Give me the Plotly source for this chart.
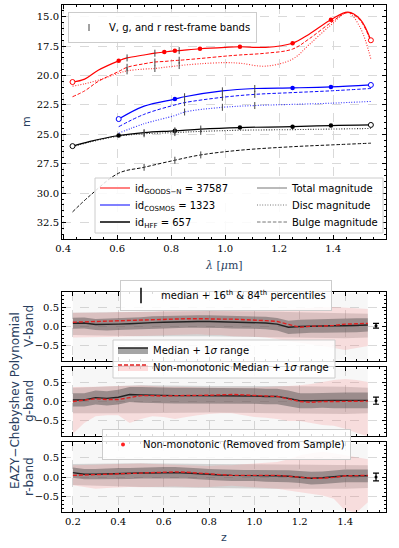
import plotly.graph_objects as go

# ---------------- top panel: magnitudes vs observed wavelength ----------------
lam_goods = [0.435, 0.48, 0.53, 0.606, 0.637, 0.70, 0.74, 0.775, 0.814, 0.83,
             0.907, 1.0, 1.055, 1.15, 1.25, 1.31, 1.392, 1.455, 1.50, 1.54]
goods_total = [20.55, 20.3, 19.55, 18.75, 18.5, 18.25, 18.1, 18.0, 17.9, 17.88,
               17.72, 17.6, 17.55, 17.6, 17.25, 16.5, 15.25, 14.6, 15.2, 17.0]
goods_bulge = [21.8, 21.3, 20.5, 19.65, 19.3, 19.0, 18.85, 18.8, 18.72, 18.7,
               18.55, 18.35, 18.25, 18.1, 17.75, 16.9, 15.5, 14.65, 15.3, 17.1]
goods_disc = [20.9, 20.7, 20.4, 19.8, 19.6, 19.45, 19.4, 19.3, 19.2, 19.15,
              19.0, 18.9, 18.95, 19.2, 18.6, 17.4, 15.7, 14.65, 15.9, 18.6]
goods_phot = [0.606, 0.775, 0.814, 0.907, 1.055, 1.25, 1.392]
goods_bands = [0.637, 0.74, 0.83]

lam_cosmos = [0.606, 0.70, 0.814, 0.85, 0.99, 1.11, 1.25, 1.392, 1.54]
cosmos_total = [23.7, 22.6, 22.0, 21.8, 21.3, 21.1, 21.05, 20.97, 20.8]
cosmos_bulge = [24.35, 23.3, 22.5, 22.3, 21.85, 21.6, 21.45, 21.3, 21.1]
cosmos_disc = [24.9, 24.1, 23.4, 23.1, 22.7, 22.55, 22.45, 22.35, 22.2]
cosmos_phot = [0.814, 1.25, 1.392]
cosmos_bands = [0.85, 0.99, 1.11]

lam_hff = [0.435, 0.50, 0.606, 0.70, 0.814, 0.91, 1.055, 1.25, 1.392, 1.54]
hff_total = [26.0, 25.6, 25.1, 24.85, 24.7, 24.55, 24.42, 24.35, 24.25, 24.2]
hff_disc = [26.05, 25.65, 25.15, 24.95, 24.85, 24.75, 24.65, 24.6, 24.55, 24.5]
hff_bulge = [31.6, 30.2, 28.3, 27.8, 27.2, 26.75, 26.35, 26.05, 25.9, 25.75]
hff_phot = [0.606, 0.814, 1.055, 1.25, 1.392]
hff_bands = [0.70, 0.814, 0.91]

# ---------------- bottom panels: EAZY - Chebyshev vs z ----------------
z = [0.2, 0.25, 0.3, 0.35, 0.4, 0.45, 0.5, 0.55, 0.6, 0.65, 0.7, 0.75, 0.8, 0.85,
     0.9, 0.95, 1.0, 1.05, 1.1, 1.15, 1.2, 1.25, 1.3, 1.35, 1.4, 1.45, 1.5]

V_med = [0.085, 0.09, 0.05, 0.05, 0.06, 0.07, 0.09, 0.1, 0.11, 0.12, 0.13, 0.13, 0.13, 0.12,
         0.11, 0.11, 0.1, 0.09, 0.06, -0.02, 0.0, 0.01, 0.01, 0.02, 0.02, 0.03, 0.04]
V_sig = [0.14, 0.14, 0.14, 0.15, 0.15, 0.15, 0.15, 0.16, 0.16, 0.16, 0.16, 0.16, 0.16, 0.16,
         0.16, 0.16, 0.16, 0.16, 0.16, 0.17, 0.17, 0.17, 0.17, 0.18, 0.18, 0.18, 0.17]
V_nm_med = [0.11, 0.12, 0.13, 0.13, 0.15, 0.15, 0.16, 0.17, 0.19, 0.2, 0.2, 0.2, 0.19, 0.19,
            0.19, 0.18, 0.17, 0.15, 0.13, 0.05, -0.02, 0.01, 0.01, 0.03, 0.06, 0.07, 0.08]
V_nm_hi = [0.35, 0.35, 0.36, 0.36, 0.37, 0.37, 0.38, 0.38, 0.4, 0.4, 0.41, 0.42, 0.42, 0.42,
           0.42, 0.4, 0.4, 0.4, 0.42, 0.44, 0.46, 0.48, 0.5, 0.5, 0.48, 0.47, 0.45]
V_nm_lo = [-0.28, -0.28, -0.27, -0.27, -0.26, -0.25, -0.25, -0.24, -0.22, -0.22, -0.2, -0.2, -0.22, -0.22,
           -0.25, -0.25, -0.26, -0.28, -0.32, -0.38, -0.42, -0.45, -0.5, -0.55, -0.6, -0.55, -0.5]

g_med = [0.04, 0.04, 0.1, 0.08, 0.11, 0.18, 0.17, 0.16, 0.15, 0.15, 0.15, 0.15, 0.15, 0.15,
         0.15, 0.14, 0.14, 0.13, 0.13, 0.08, 0.02, 0.02, 0.03, 0.03, 0.03, 0.03, 0.03]
g_sig = [0.17, 0.17, 0.18, 0.18, 0.19, 0.19, 0.2, 0.2, 0.2, 0.2, 0.2, 0.2, 0.2, 0.2,
         0.2, 0.2, 0.2, 0.2, 0.2, 0.2, 0.19, 0.19, 0.19, 0.2, 0.2, 0.2, 0.2]
g_nm_med = [0.0, 0.03, 0.07, 0.05, 0.05, 0.1, 0.15, 0.15, 0.14, 0.15, 0.15, 0.16, 0.16, 0.17,
            0.18, 0.17, 0.15, 0.14, 0.13, 0.07, 0.0, -0.02, 0.0, 0.0, 0.0, 0.0, 0.01]
g_nm_hi = [0.37, 0.37, 0.38, 0.39, 0.4, 0.41, 0.41, 0.4, 0.38, 0.38, 0.37, 0.36, 0.36, 0.36,
           0.36, 0.35, 0.36, 0.37, 0.38, 0.4, 0.42, 0.45, 0.5, 0.55, 0.58, 0.55, 0.5]
g_nm_lo = [-0.83, -0.55, -0.38, -0.35, -0.35, -0.55, -0.45, -0.38, -0.4, -0.45, -0.4, -0.35, -0.32, -0.3,
           -0.3, -0.35, -0.4, -0.42, -0.45, -0.5, -0.5, -0.55, -0.6, -0.62, -0.7, -0.8, -0.9]

r_med = [0.11, 0.07, 0.07, 0.08, 0.09, 0.09, 0.1, 0.1, 0.11, 0.11, 0.1, 0.08, 0.06, 0.05,
         0.04, 0.04, 0.04, 0.03, 0.03, 0.02, 0.0, -0.03, -0.02, 0.0, 0.03, 0.03, 0.03]
r_sig = [0.13, 0.13, 0.13, 0.14, 0.14, 0.14, 0.14, 0.14, 0.14, 0.14, 0.14, 0.14, 0.14, 0.14,
         0.14, 0.14, 0.14, 0.15, 0.15, 0.15, 0.15, 0.16, 0.16, 0.16, 0.16, 0.16, 0.16]
r_nm_med = [0.04, 0.05, 0.07, 0.08, 0.09, 0.1, 0.11, 0.12, 0.13, 0.13, 0.12, 0.1, 0.07, 0.05,
            0.04, 0.04, 0.04, 0.04, 0.04, 0.02, -0.01, -0.03, -0.03, -0.01, 0.03, 0.04, 0.04]
r_nm_hi = [0.3, 0.3, 0.31, 0.32, 0.33, 0.34, 0.34, 0.33, 0.32, 0.3, 0.3, 0.28, 0.28, 0.3,
           0.3, 0.32, 0.34, 0.36, 0.38, 0.45, 0.55, 0.6, 0.64, 0.6, 0.55, 0.5, 0.45]
r_nm_lo = [-0.21, -0.25, -0.3, -0.28, -0.26, -0.25, -0.26, -0.25, -0.24, -0.24, -0.25, -0.26, -0.25, -0.24,
           -0.22, -0.24, -0.26, -0.28, -0.3, -0.34, -0.38, -0.42, -0.47, -0.55, -0.85, -0.9, -0.64]

# extent of the (dense / sparse) point clouds
cz = [0.2, 0.5, 0.8, 1.1, 1.4, 1.5]
V_cloud_hi = [0.35, 0.38, 0.4, 0.38, 0.35, 0.33]
V_cloud_lo = [-0.22, -0.25, -0.25, -0.28, -0.3, -0.28]
g_cloud_hi = [0.35, 0.42, 0.4, 0.4, 0.38, 0.35]
g_cloud_lo = [-0.3, -0.3, -0.28, -0.3, -0.32, -0.3]
r_cloud_hi = [0.33, 0.35, 0.33, 0.32, 0.32, 0.3]
r_cloud_lo = [-0.2, -0.25, -0.28, -0.3, -0.3, -0.28]
sparse_hi = [0.85, 0.85, 0.85, 0.85, 0.85, 0.85]
sparse_lo = [-0.85, -0.85, -0.85, -0.85, -0.85, -0.85]

# percentile error bars at the right edge
err_z = [1.536]
V_err_y, V_err = [0.02], [0.06]
g_err_y, g_err = [0.02], [0.09]
r_err_y, r_err = [0.0], [0.1]

# ------------------------------------------------------------------
W, H = 399, 548
ML, MR, MT, MB = 62, 13, 5, 36


def px(x):
    return (x - ML) / (W - ML - MR)


def py(y):
    return (H - MB - y) / (H - MT - MB)


SANS = 'DejaVu Sans'
SERIF = 'DejaVu Serif'
DOT = '1px,1.6px'
DASH = '3.5px,1.8px'

fig = go.Figure()

galaxies = [
    ('red', '#ff8080', lam_goods, goods_total, goods_disc, goods_bulge, goods_phot, goods_bands,
     'id<sub>GOODS−N</sub> = 37587'),
    ('blue', '#8080ff', lam_cosmos, cosmos_total, cosmos_disc, cosmos_bulge, cosmos_phot, cosmos_bands,
     'id<sub>COSMOS</sub> = 1323'),
    ('black', '#404040', lam_hff, hff_total, hff_disc, hff_bulge, hff_phot, hff_bands,
     'id<sub>HFF</sub> = 657'),
]

band_x, band_y = [], []
for i, (col, lcol, lam, tot, disc, bulge, phot, bands, name) in enumerate(galaxies):
    fig.add_trace(go.Scatter(x=lam, y=disc, mode='lines', line=dict(color=col, width=1.1, dash=DOT, shape='spline'),
                             opacity=0.8, showlegend=False, xaxis='x', yaxis='y'))
    fig.add_trace(go.Scatter(x=lam, y=bulge, mode='lines', line=dict(color=col, width=1, dash=DASH, shape='spline'),
                             opacity=0.95, showlegend=False, xaxis='x', yaxis='y'))
    fig.add_trace(go.Scatter(x=lam, y=tot, mode='lines', line=dict(color=col, width=1.2, shape='spline'),
                             showlegend=False, xaxis='x', yaxis='y'))
    lookup = dict(zip(lam, tot))
    fig.add_trace(go.Scatter(x=phot, y=[lookup[l] for l in phot], mode='markers',
                             marker=dict(color=col, size=4.5), showlegend=False, xaxis='x', yaxis='y'))
    fig.add_trace(go.Scatter(x=[lam[0], lam[-1]], y=[tot[0], tot[-1]], mode='markers',
                             marker=dict(color='white', size=5, line=dict(color=col, width=1)),
                             showlegend=False, xaxis='x', yaxis='y'))
    for curve in (tot, disc, bulge):
        lk = dict(zip(lam, curve))
        for b in bands:
            band_x.append(b)
            band_y.append(lk[b])
    fig.add_trace(go.Scatter(x=[None], y=[None], mode='lines', line=dict(color=lcol, width=2),
                             name=name, legend='legend%d' % (2 + i), xaxis='x', yaxis='y'))

fig.add_trace(go.Scatter(x=band_x, y=band_y, mode='markers',
                         marker=dict(symbol='line-ns', size=5, color='#444', line=dict(width=1, color='#444')),
                         name='V, g, and r rest-frame bands', legend='legend', xaxis='x', yaxis='y'))

for i, (nm, dash) in enumerate((('Total magnitude', 'solid'), ('Disc magnitude', DOT), ('Bulge magnitude', DASH))):
    fig.add_trace(go.Scatter(x=[None], y=[None], mode='lines', line=dict(color='#777', width=1, dash=dash),
                             name=nm, legend='legend%d' % (5 + i), xaxis='x', yaxis='y'))

# ------------------------------------------------------------------
panels = [
    ('2', V_med, V_sig, V_nm_med, V_nm_hi, V_nm_lo, V_cloud_hi, V_cloud_lo, V_err_y, V_err),
    ('3', g_med, g_sig, g_nm_med, g_nm_hi, g_nm_lo, g_cloud_hi, g_cloud_lo, g_err_y, g_err),
    ('4', r_med, r_sig, r_nm_med, r_nm_hi, r_nm_lo, r_cloud_hi, r_cloud_lo, r_err_y, r_err),
]

for k, med, sig, nmm, nmh, nml, chi, clo, ey, ee in panels:
    ax = dict(xaxis='x' + k, yaxis='y' + k, showlegend=False, hoverinfo='skip')

    def band(xs, lo, hi, color):
        fig.add_trace(go.Scatter(x=xs, y=lo, mode='lines', line=dict(width=0), **ax))
        fig.add_trace(go.Scatter(x=xs, y=hi, mode='lines', line=dict(width=0), fill='tonexty',
                                 fillcolor=color, **ax))

    band(cz, sparse_lo, sparse_hi, 'rgba(150,150,150,0.08)')
    band(cz, clo, chi, 'rgba(120,120,120,0.28)')
    band(z, nml, nmh, 'rgba(250,120,120,0.2)')
    band(z, [m - s for m, s in zip(med, sig)], [m + s for m, s in zip(med, sig)], 'rgba(70,70,70,0.42)')
    fig.add_trace(go.Scatter(x=z, y=med, mode='lines', line=dict(color='#222', width=1.4), **ax))
    fig.add_trace(go.Scatter(x=z, y=nmm, mode='lines', line=dict(color='#e02020', width=1.4, dash='4px,2px'), **ax))
    fig.add_trace(go.Scatter(x=err_z, y=ey, mode='markers', marker=dict(color='black', size=3),
                             error_y=dict(type='data', array=ee, color='black', thickness=1.2, width=3), **ax))

fig.add_trace(go.Scatter(x=[None], y=[None], mode='markers',
                         marker=dict(symbol='line-ns', size=11, color='black', line=dict(width=1.5, color='black')),
                         name='median + 16<sup>th</sup> & 84<sup>th</sup> percentiles', legend='legend8',
                         xaxis='x2', yaxis='y2'))
fig.add_trace(go.Scatter(x=[None], y=[None], mode='lines', line=dict(color='#222', width=1.6),
                         fill='toself', fillcolor='rgba(90,90,90,0.55)',
                         name='Median + 1<i>σ</i> range', legend='legend9', xaxis='x2', yaxis='y2'))
fig.add_trace(go.Scatter(x=[None], y=[None], mode='lines', line=dict(color='#e02020', width=1.4, dash='4px,2px'),
                         fill='toself', fillcolor='rgba(250,120,120,0.25)',
                         name='Non-monotonic Median + 1<i>σ</i> range', legend='legend10', xaxis='x2', yaxis='y2'))
fig.add_trace(go.Scatter(x=[None], y=[None], mode='markers', marker=dict(color='#ff2020', size=4),
                         name='Non-monotonic (Removed from Sample)', legend='legend11', xaxis='x4', yaxis='y4'))

# ------------------------------------------------------------------
common = dict(showline=True, linecolor='black', linewidth=1, mirror='allticks', ticks='inside', ticklen=4,
              tickcolor='black', showgrid=True, gridcolor='#d9d9d9', griddash='dash', gridwidth=0.8,
              zeroline=False, tickfont=dict(family=SERIF, size=10, color='black'))

top_x = dict(common, domain=[0, 1], range=[0.396, 1.596], anchor='y', tick0=0.4, dtick=0.2, tickformat='.1f',
             minor=dict(ticks='inside', ticklen=2, dtick=0.05, tickcolor='black', showgrid=False))
top_y = dict(common, domain=[py(239), 1], range=[33.9, 14.0], anchor='x', tick0=15, dtick=2.5, tickformat='.1f',
             minor=dict(ticks='inside', ticklen=2, dtick=0.5, tickcolor='black', showgrid=False))

bx = dict(common, domain=[0, 1], range=[0.152, 1.58], tick0=0.2, dtick=0.2, tickformat='.1f',
          minor=dict(ticks='inside', ticklen=2, dtick=0.05, tickcolor='black', showgrid=False))
by = dict(common, range=[-0.885, 0.885], tick0=0, dtick=0.5, tickformat='.1f',
          minor=dict(ticks='inside', ticklen=2, dtick=0.1, tickcolor='black', showgrid=False))

leg = dict(bgcolor='rgba(255,255,255,0.85)', bordercolor='#cccccc', borderwidth=1,
           font=dict(family=SANS, size=10, color='black'), xanchor='left', yanchor='top', tracegroupgap=0)
bare = dict(leg, bgcolor='rgba(0,0,0,0)', borderwidth=0, yanchor='middle')


def box(x0, x1, y0, y1):
    return dict(type='rect', xref='paper', yref='paper', x0=px(x0), x1=px(x1), y0=py(y1), y1=py(y0),
                fillcolor='rgba(255,255,255,0.85)', line=dict(color='#cccccc', width=1), layer='above')


fig.update_layout(
    width=W, height=H, margin=dict(l=ML, r=MR, t=MT, b=MB),
    paper_bgcolor='white', plot_bgcolor='white',
    xaxis=top_x, yaxis=top_y,
    xaxis2=dict(bx, anchor='y2', showticklabels=False), yaxis2=dict(by, anchor='x2', domain=[py(361), py(292)]),
    xaxis3=dict(bx, anchor='y3', showticklabels=False), yaxis3=dict(by, anchor='x3', domain=[py(436), py(367)]),
    xaxis4=dict(bx, anchor='y4'), yaxis4=dict(by, anchor='x4', domain=[0, py(442)]),
    legend=dict(leg, x=px(68), y=py(12)),
    legend2=dict(bare, x=px(95), y=py(188)),
    legend3=dict(bare, x=px(95), y=py(205)),
    legend4=dict(bare, x=px(95), y=py(222)),
    legend5=dict(bare, x=px(252), y=py(188)),
    legend6=dict(bare, x=px(252), y=py(205)),
    legend7=dict(bare, x=px(252), y=py(222)),
    legend8=dict(leg, x=px(120), y=py(280)),
    legend9=dict(bare, x=px(113), y=py(350)),
    legend10=dict(bare, x=px(113), y=py(367)),
    legend11=dict(leg, x=px(102), y=py(429)),
    shapes=[box(95, 383, 178, 233), box(113, 335, 340, 378)],
    annotations=[
        dict(text='m', x=px(27), y=py(122), textangle=-90, font=dict(family=SANS, size=11)),
        dict(text='<i>λ</i> [<i>μ</i>m]', x=px(224), y=py(265), font=dict(family=SERIF, size=11)),
        dict(text='z', x=px(224), y=py(537), font=dict(family=SANS, size=11)),
        dict(text='EAZY−Chebyshev Polynomial', x=px(15), y=py(401), textangle=-90, font=dict(family=SANS, size=12)),
        dict(text='V-band', x=px(29), y=py(326), textangle=-90, font=dict(family=SANS, size=12)),
        dict(text='g-band', x=px(29), y=py(401), textangle=-90, font=dict(family=SANS, size=12)),
        dict(text='r-band', x=px(29), y=py(477), textangle=-90, font=dict(family=SANS, size=12)),
    ],
)
for a in fig.layout.annotations:
    a.update(xref='paper', yref='paper', showarrow=False, xanchor='center', yanchor='middle')

# drop the browser's default body margin so the figure sits at the page origin
fig.write_html('out.html', config={'displayModeBar': False},
               post_script="document.body.style.margin='0';")
